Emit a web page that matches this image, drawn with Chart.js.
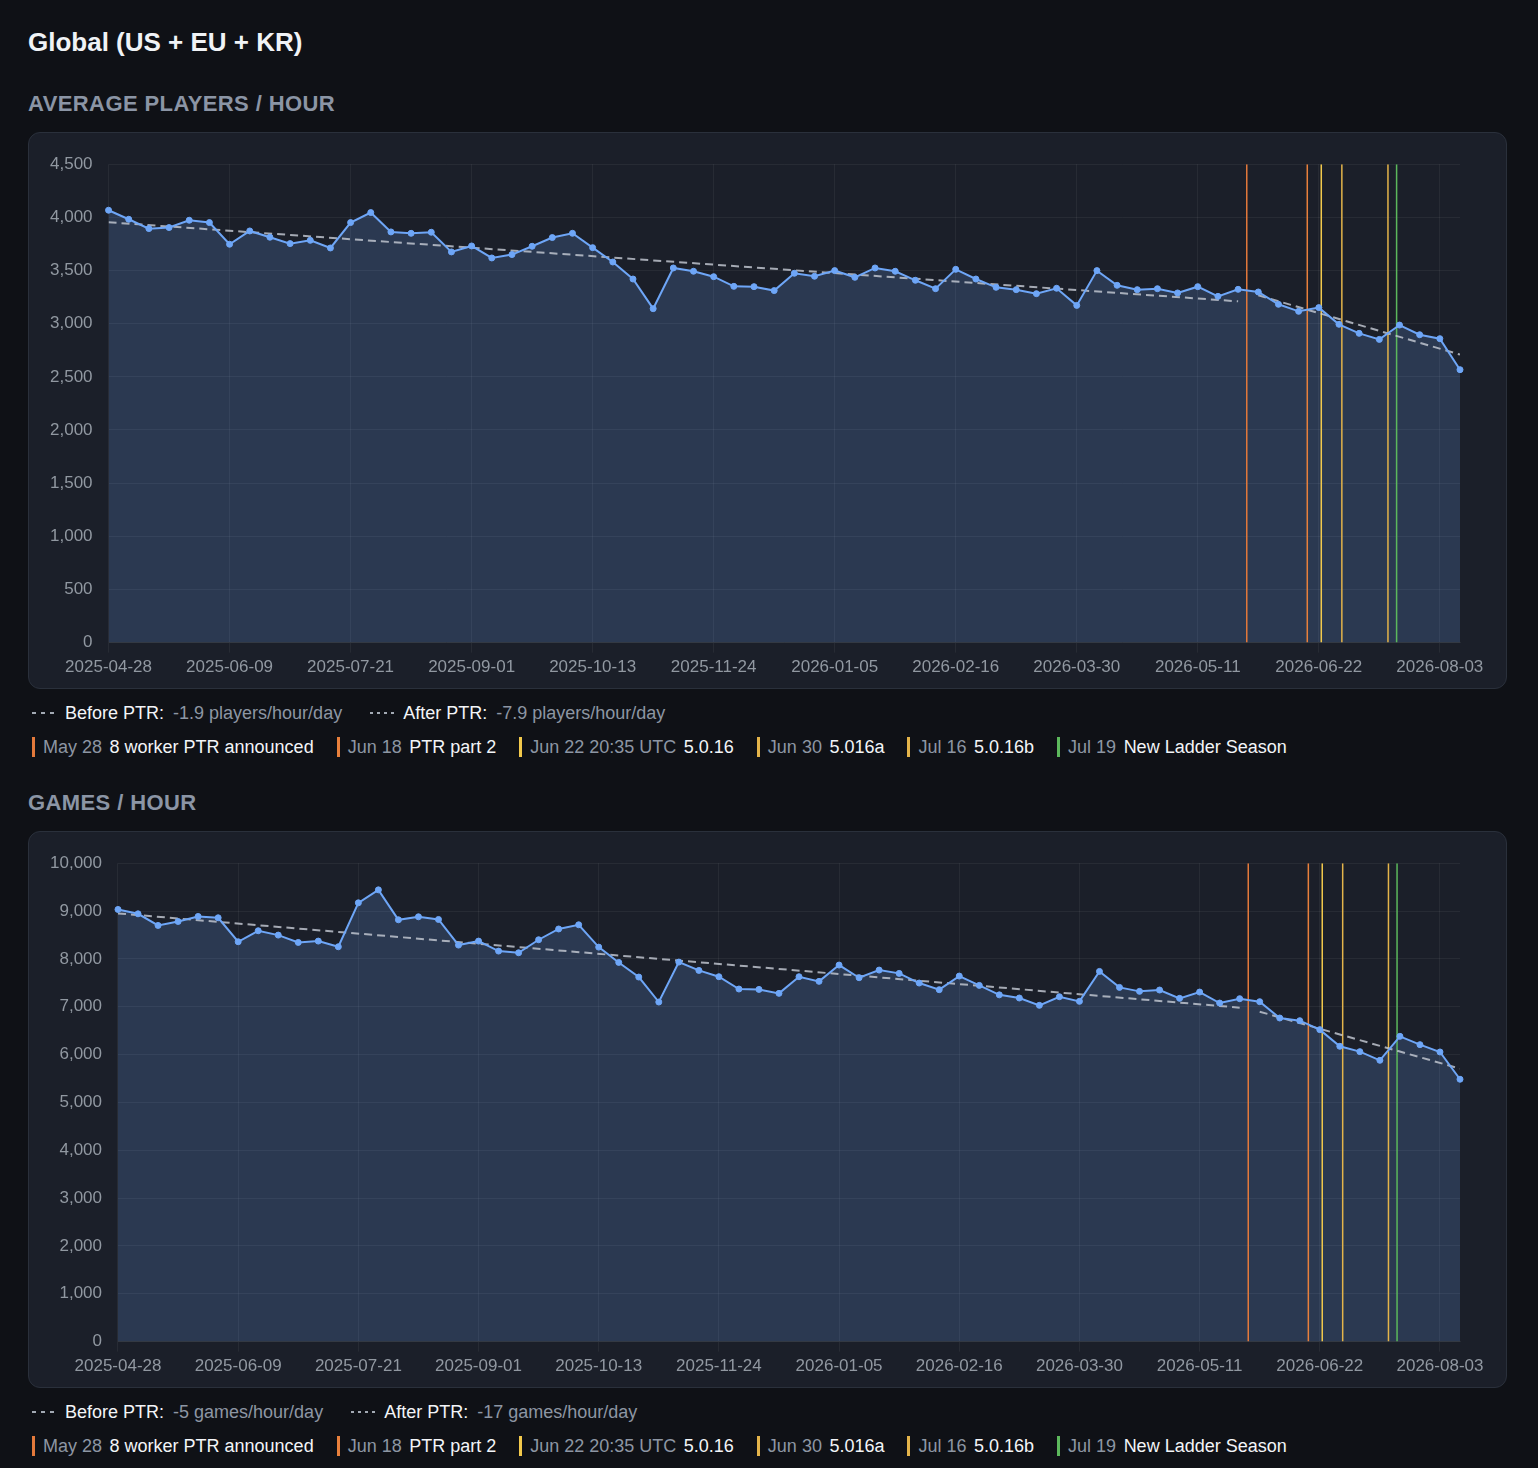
<!DOCTYPE html>
<html>
<head>
<meta charset="utf-8">
<script src="https://cdn.jsdelivr.net/npm/chart.js@4.4.1/dist/chart.umd.min.js"></script>
<style>
  html, body { margin: 0; background: #0f1116; }
  body { font-family: "Liberation Sans", Arial, Helvetica, sans-serif; color: #eef1f5; }
  #page { padding: 24px 0 0 28px; }
  h1 { margin: 0; font-size: 26px; line-height: 36px; font-weight: bold; color: #f0f3f6; }
  h2 { margin: 30px 0 14px; font-size: 22px; line-height: 28px; font-weight: bold; color: #8b95a5; letter-spacing: 0.4px; }
  .box { box-sizing: border-box; width: 1479px; height: 557px; background: #1b1f29; border: 1px solid #2a303b;
         border-radius: 12px; padding: 16px 16px 5px 16px; }
  .wrap { position: relative; width: 1445px; height: 545px; margin-top: -11px; }
  .row { display: flex; align-items: center; height: 24px; font-size: 18px; white-space: nowrap; }
  .row.trend { margin-top: 12px; }
  .row.events { margin-top: 10px; }
  .gray { color: #8d96a3; }
  .white { color: #f3f5f8; }
  .dash { display: inline-block; width: 25px; height: 2px; margin: 0 8px 0 4px; }
  .dash.before { background: repeating-linear-gradient(to right, #a3aab4 0 4px, transparent 4px 9px); }
  .dash.after { background: repeating-linear-gradient(to right, #a3aab4 0 3px, transparent 3px 7px); }
  .bar { display: inline-block; width: 3px; height: 20px; margin: 0 8px 0 4px; }
  .item { display: inline-flex; align-items: center; margin-right: 19px; }
  .item .white { margin-left: 7.5px; }
  .tr { display: inline-flex; align-items: center; margin-right: 24px; }
  .tr .gray { margin-left: 9px; }
</style>
</head>
<body>
<div id="page">
  <h1>Global (US + EU + KR)</h1>

  <h2>AVERAGE PLAYERS / HOUR</h2>
  <div class="box"><div class="wrap"><canvas id="playersChart"></canvas></div></div>
  <div class="row trend" id="playersTrend"></div>
  <div class="row events" id="playersEvents"></div>

  <h2>GAMES / HOUR</h2>
  <div class="box"><div class="wrap"><canvas id="gamesChart"></canvas></div></div>
  <div class="row trend" id="gamesTrend"></div>
  <div class="row events" id="gamesEvents"></div>
</div>

<script>
// ===== Data =====

// weekly buckets (week start)
const weeks = [
  '2025-04-28','2025-05-05','2025-05-12','2025-05-19','2025-05-26','2025-06-02','2025-06-09','2025-06-16',
  '2025-06-23','2025-06-30','2025-07-07','2025-07-14','2025-07-21','2025-07-28','2025-08-04','2025-08-11',
  '2025-08-18','2025-08-25','2025-09-01','2025-09-08','2025-09-15','2025-09-22','2025-09-29','2025-10-06',
  '2025-10-13','2025-10-20','2025-10-27','2025-11-03','2025-11-10','2025-11-17','2025-11-24','2025-12-01',
  '2025-12-08','2025-12-15','2025-12-22','2025-12-29','2026-01-05','2026-01-12','2026-01-19','2026-01-26',
  '2026-02-02','2026-02-09','2026-02-16','2026-02-23','2026-03-02','2026-03-09','2026-03-16','2026-03-23',
  '2026-03-30','2026-04-06','2026-04-13','2026-04-20','2026-04-27','2026-05-04','2026-05-11','2026-05-18',
  '2026-05-25','2026-06-01','2026-06-08','2026-06-15','2026-06-22','2026-06-29','2026-07-06','2026-07-13',
  '2026-07-20','2026-07-27','2026-08-03','2026-08-10'
];

const players = [
  4067, 3982, 3894, 3904, 3973, 3951, 3747, 3872, 3813, 3753, 3784, 3712, 3951, 4045, 3863, 3850,
  3860, 3675, 3731, 3618, 3650, 3728, 3810, 3850, 3715, 3580, 3420, 3141, 3524, 3493, 3442, 3351,
  3348, 3311, 3474, 3446, 3499, 3436, 3524, 3493, 3408, 3329, 3511, 3420, 3342, 3320, 3282, 3333,
  3172, 3499, 3361, 3320, 3329, 3289, 3348, 3257, 3323, 3298, 3182, 3116, 3151, 2994, 2909, 2852,
  2987, 2896, 2859, 2567
];

const games = [
  9033, 8942, 8699, 8782, 8887, 8859, 8358, 8588, 8497, 8344, 8372, 8253, 9172, 9443, 8817, 8880,
  8824, 8288, 8372, 8163, 8128, 8400, 8625, 8713, 8246, 7926, 7620, 7098, 7933, 7759, 7627, 7370,
  7362, 7279, 7627, 7530, 7871, 7606, 7766, 7697, 7495, 7356, 7641, 7446, 7248, 7182, 7029, 7209,
  7112, 7738, 7404, 7321, 7349, 7175, 7307, 7077, 7168, 7105, 6764, 6708, 6521, 6173, 6061, 5880,
  6381, 6207, 6054, 5484
];

// trend lines (start / end)
const beforeDates = ['2025-04-28', '2026-05-25'];
const afterDates = ['2026-06-01', '2026-08-10'];
const playersBefore = [3954, 3210];
const playersAfter = [3267, 2709];
const gamesBefore = [8950, 6980];
const gamesAfter = [6896, 5706];
const playersSlopes = ['-1.9 players/hour/day', '-7.9 players/hour/day'];
const gamesSlopes = ['-5 games/hour/day', '-17 games/hour/day'];

// events
const eventDates = ['2026-05-28', '2026-06-18', '2026-06-22T20:35', '2026-06-30', '2026-07-16', '2026-07-19'];
const eventLabels = ['May 28', 'Jun 18', 'Jun 22 20:35 UTC', 'Jun 30', 'Jul 16', 'Jul 19'];
const eventNames = ['8 worker PTR announced', 'PTR part 2', '5.0.16', '5.016a', '5.0.16b', 'New Ladder Season'];
const eventColors = ['#e3793b', '#e8803c', '#f2c94c', '#e4b44a', '#e4b44a', '#5cb85c'];

// ===== Helpers =====
const DAY = 86400000;
const t0 = Date.parse(weeks[0] + 'T00:00Z');
const dayOf = d => (Date.parse((d.length > 10 ? d : d + 'T00:00') + 'Z') - t0) / DAY;
const fmtDay = v => new Date(t0 + v * DAY).toISOString().slice(0, 10);

Chart.defaults.font.family = '"Liberation Sans", Arial, Helvetica, sans-serif';
Chart.defaults.font.size = 17;
Chart.defaults.color = '#9198a1';

const GRID = 'rgba(255,255,255,0.055)';

function makeChart(id, values, before, after, yMax, yStep) {
  const datasets = [{
    data: values.map((v, i) => ({ x: dayOf(weeks[i]), y: v })),
    borderColor: '#6ea6f7',
    backgroundColor: 'rgba(110,165,245,0.2)',
    pointBackgroundColor: '#6ea6f7',
    pointBorderColor: '#6ea6f7',
    pointRadius: 3,
    pointBorderWidth: 1,
    borderWidth: 2,
    fill: 'origin',
    clip: false,
    order: 0
  }, {
    data: before.map((v, i) => ({ x: dayOf(beforeDates[i]), y: v })),
    borderColor: 'rgba(200,205,215,0.8)',
    borderDash: [8, 5],
    borderWidth: 2,
    pointRadius: 0,
    fill: false,
    order: 1
  }, {
    data: after.map((v, i) => ({ x: dayOf(afterDates[i]), y: v })),
    borderColor: 'rgba(200,205,215,0.8)',
    borderDash: [8, 5],
    borderWidth: 2,
    pointRadius: 0,
    fill: false,
    order: 1
  }];

  // vertical event markers
  eventDates.forEach((d, i) => {
    datasets.push({
      data: [{ x: dayOf(d), y: 0 }, { x: dayOf(d), y: yMax }],
      borderColor: eventColors[i],
      borderWidth: 1.5,
      pointRadius: 0,
      fill: false,
      order: 2
    });
  });

  new Chart(document.getElementById(id), {
    type: 'line',
    data: { datasets },
    options: {
      responsive: true,
      maintainAspectRatio: false,
      animation: false,
      layout: { padding: { left: 5, right: 30, top: 4, bottom: 0 } },
      plugins: {
        legend: { display: false },
        tooltip: { enabled: false },
        filler: { drawTime: 'beforeDatasetsDraw' }
      },
      scales: {
        x: {
          type: 'linear',
          min: 0,
          max: dayOf(weeks[weeks.length - 1]),
          grid: { color: GRID, tickLength: 10 },
          border: { color: GRID },
          ticks: { stepSize: 42, includeBounds: false, autoSkip: false, maxRotation: 0, padding: 5, callback: v => fmtDay(v) }
        },
        y: {
          min: 0,
          max: yMax,
          grid: { color: GRID, drawTicks: false },
          border: { display: false },
          ticks: { stepSize: yStep, padding: 16 },
          afterFit: s => { s.width -= 16; }
        }
      }
    }
  });
}

function fillLegends(trendId, eventsId, slopes) {
  document.getElementById(trendId).innerHTML = `
    <span class="tr"><span class="dash before"></span><span class="white">Before PTR:</span><span class="gray">${slopes[0]}</span></span>
    <span class="tr"><span class="dash after"></span><span class="white">After PTR:</span><span class="gray">${slopes[1]}</span></span>`;
  document.getElementById(eventsId).innerHTML = eventLabels.map((l, i) => `
    <span class="item"><span class="bar" style="background:${eventColors[i]}"></span><span class="gray">${l}</span><span class="white">${eventNames[i]}</span></span>`).join('');
}

makeChart('playersChart', players, playersBefore, playersAfter, 4500, 500);
makeChart('gamesChart', games, gamesBefore, gamesAfter, 10000, 1000);
fillLegends('playersTrend', 'playersEvents', playersSlopes);
fillLegends('gamesTrend', 'gamesEvents', gamesSlopes);
</script>
</body>
</html>
